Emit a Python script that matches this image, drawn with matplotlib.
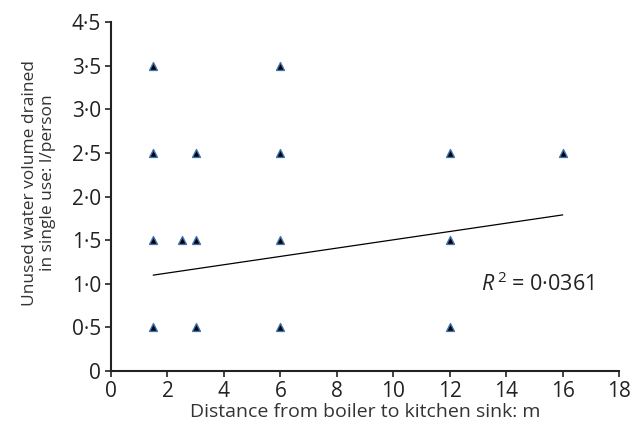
import matplotlib
matplotlib.use("Agg")
import matplotlib.pyplot as plt

plt.rcParams["font.family"] = ["Open Sans", "DejaVu Sans"]
plt.rcParams["mathtext.fontset"] = "custom"
plt.rcParams["mathtext.rm"] = "Open Sans"
plt.rcParams["mathtext.it"] = "Open Sans:italic"

# distance from boiler to kitchen sink (m) and unused water drained (l/person)
distance = [1.5, 6, 1.5, 3, 6, 12, 16, 1.5, 2.5, 3, 6, 12, 1.5, 3, 6, 12]
volume = [3.5, 3.5, 2.5, 2.5, 2.5, 2.5, 2.5, 1.5, 1.5, 1.5, 1.5, 1.5, 0.5, 0.5, 0.5, 0.5]

# fitted trend line endpoints
trend_x = [1.5, 16]
trend_y = [1.10, 1.79]

y_ticks = [0, 0.5, 1.0, 1.5, 2.0, 2.5, 3.0, 3.5, 4.0]
y_labels = ["0", "0·5", "1·0", "1·5", "2·0", "2·5", "3·0", "3·5", "4·5"]
x_ticks = [0, 2, 4, 6, 8, 10, 12, 14, 16, 18]

fig = plt.figure(figsize=(6.31, 4.26), dpi=100)
ax = fig.add_axes([0.176, 0.129, 0.805, 0.819])

ax.plot(trend_x, trend_y, "k-", lw=0.9)
ax.scatter(distance, volume, marker="^", s=32, c="black",
           edgecolors="#3f72b0", linewidths=1.0, zorder=3)

ax.text(13.1, 1.0, r"$R^{\,2}$ = 0·0361", fontsize=15.5, va="center", ha="left",
        color="#222222")

ax.set_xlim(0, 18)
ax.set_ylim(0, 4.0)
ax.set_xticks(x_ticks)
ax.set_yticks(y_ticks)
ax.set_yticklabels(y_labels)
ax.tick_params(labelsize=15, length=4, width=1.2, color="#222222",
               labelcolor="#222222", pad=3)
for side in ["top", "right"]:
    ax.spines[side].set_visible(False)
for side in ["left", "bottom"]:
    ax.spines[side].set_linewidth(1.5)
    ax.spines[side].set_color("#222222")

ax.set_xlabel("Distance from boiler to kitchen sink: m", fontsize=14,
              color="#333333", labelpad=1)
ax.set_ylabel("Unused water volume drained\nin single use: l/person",
              fontsize=12.5, color="#333333", linespacing=1.2)
ax.yaxis.set_label_coords(-0.108, 0.54)

fig.savefig("out.png", dpi=100)
